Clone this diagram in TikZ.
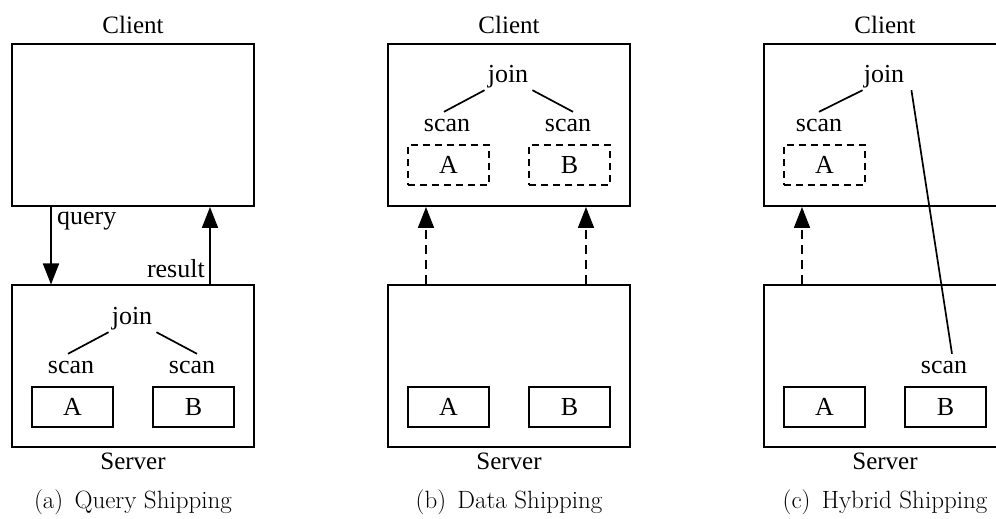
\documentclass[tikz,border=0pt]{standalone}
\usepackage{fontspec}
\usepackage{tikz}
\usetikzlibrary{positioning, arrows.meta, calc}
\newfontfamily\lblfont{Liberation Serif}
\newcommand{\lbl}{\lblfont\fontsize{26}{30}\selectfont}
\newcommand{\side}{\lblfont\fontsize{25}{29}\selectfont}
\newcommand{\capt}{\fontsize{25}{29}\selectfont}

\begin{document}
\begin{tikzpicture}[x=1pt, y=1pt,
 site/.style={draw, line width=2pt, minimum width=242pt, minimum height=162pt, inner sep=0pt},
 tbl/.style={draw, line width=1.9pt, minimum width=81pt, minimum height=40pt, inner sep=0pt, font=\lbl},
 ghost/.style={tbl, dash pattern=on 7pt off 5pt},
 opr/.style={font=\lbl, inner sep=1pt, text height=19pt, text depth=6pt, anchor=base},
 tag/.style={font=\side, inner sep=0pt, anchor=base},
 edge/.style={line width=1.7pt},
 ship/.style={line width=1.8pt, -{Triangle[length=21pt, width=16pt]}},
 pull/.style={ship, dash pattern=on 9pt off 6pt}]
\useasboundingbox (0,0) rectangle (996,519);

% (a) query shipping
\node[site](cla) at (133,394){};
\node[site](sva) at (133,152.5){};
\node[tag](cta) at (133,485){Client};
\node[tag](sta) at (133,49){Server};
\node[opr](jna) at (132,194){join};
\node[opr](sla) at (71,145){scan};
\node[opr](sra) at (192,145){scan};
\node[tbl](ta) at (72.5,112){A};
\node[tbl](tb) at (193.5,112){B};
\draw[edge]([xshift=-2pt]jna.south west)--([xshift=-3pt]sla.north);
\draw[edge]([xshift=3pt]jna.south east)--([xshift=5pt]sra.north);
\draw[ship]([xshift=40pt]cla.south west)--([xshift=40pt]sva.north west);
\draw[ship]([xshift=199pt]sva.north west)--([xshift=199pt]cla.south west);
\node[tag, font=\lbl, anchor=base west](qry) at (57,294){query};
\node[tag, font=\lbl, anchor=base east](res) at (205,241){result};
\node[anchor=base, inner sep=0pt, font=\capt](capa) at (133,10){(a)\hspace{0.45em}Query Shipping};

% (b) data shipping
\begin{scope}[xshift=376pt]
\node[site](clb) at (133,394){};
\node[site](svb) at (133,152.5){};
\node[tag](ctb) at (133,485){Client};
\node[tag](stb) at (133,49){Server};
\node[opr](jnb) at (132,436){join};
\node[opr](slb) at (71,387){scan};
\node[opr](srb) at (192,387){scan};
\node[ghost](gab) at (72.5,354){A};
\node[ghost](gbb) at (193.5,354){B};
\node[tbl](tab) at (72.5,112){A};
\node[tbl](tbb) at (193.5,112){B};
\draw[edge]([xshift=-2pt]jnb.south west)--([xshift=-3pt]slb.north);
\draw[edge]([xshift=3pt]jnb.south east)--([xshift=5pt]srb.north);
\draw[pull]([xshift=39pt]svb.north west)--([xshift=39pt]clb.south west);
\draw[pull]([xshift=199pt]svb.north west)--([xshift=199pt]clb.south west);
\node[anchor=base, inner sep=0pt, font=\capt](capb) at (133,10){(b)\hspace{0.45em}Data Shipping};
\end{scope}

% (c) hybrid shipping
\begin{scope}[xshift=752pt]
\node[site](clc) at (133,394){};
\node[site](svc) at (133,152.5){};
\node[tag](ctc) at (133,485){Client};
\node[tag](stc) at (133,49){Server};
\node[opr](jnc) at (132,436){join};
\node[opr](slc) at (67,387){scan};
\node[opr](src) at (192,145){scan};
\node[ghost](gac) at (72.5,354){A};
\node[tbl](tac) at (72.5,112){A};
\node[tbl](tbc) at (193.5,112){B};
\draw[edge](jnc.south west)--(slc.north);
\draw[edge]([xshift=6pt]jnc.south east)--([xshift=8pt]src.north);
\draw[pull]([xshift=39pt]svc.north west)--([xshift=39pt]clc.south west);
\node[anchor=base, inner sep=0pt, font=\capt](capc) at (133,10){(c)\hspace{0.45em}Hybrid Shipping};
\end{scope}

\end{tikzpicture}
\end{document}
